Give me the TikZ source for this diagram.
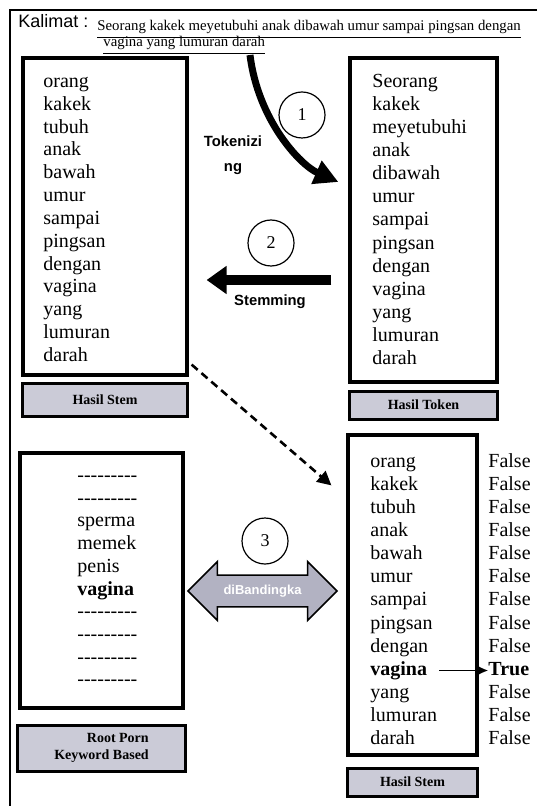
\documentclass[tikz,border=0pt]{standalone}
\usepackage{fontspec}
\setmainfont{Liberation Serif}
\setsansfont{Liberation Sans}
\usetikzlibrary{positioning,arrows.meta,shapes.arrows}
\tikzset{>=latex}
\definecolor{scangray}{RGB}{203,203,215}
\definecolor{arrowgray}{RGB}{178,178,194}
\def\hy{\hbox{-}}
\def\dashrow{\hy\hy\hy\hy\hy\hy\hy\hy\hy}

\tikzset{
  listbox/.style={draw, line width=1.6pt, inner sep=0pt},
  lblbox/.style={draw, line width=1.6pt, fill=scangray, inner sep=0pt, align=center,
    font=\fontsize{7}{8.5}\selectfont\bfseries},
  word/.style={anchor=base west, inner sep=0pt, font=\fontsize{10}{11.5}\selectfont},
  stepnum/.style={draw, circle, line width=0.6pt, minimum size=23pt, inner sep=0pt,
    font=\fontsize{9}{10}\selectfont},
  steplbl/.style={inner sep=0pt, align=center, font=\sffamily\bfseries\fontsize{7.4}{12.5}\selectfont},
  fatarrow/.style={line width=#1},
}

\begin{document}
\begin{tikzpicture}[x=0.5pt, y=-0.5pt]
  \useasboundingbox[fill=white] (0,0) rectangle (537,806);
  \draw[line width=1pt] (537,10) -- (10,10) -- (10,806);

  % kalimat
  \node[anchor=base west, inner sep=0pt, font=\sffamily\fontsize{9}{10}\selectfont] (kal) at (18,28) {Kalimat :};
  \node[anchor=base west, inner sep=0pt, font=\fontsize{7.4}{8}\selectfont] (sent1) at (97,31)
    {\underline{Seorang kakek meyetubuhi anak dibawah umur sampai pingsan dengan}};
  \node[anchor=base west, inner sep=0pt, font=\fontsize{7.4}{8}\selectfont] (sent2) at (103,47)
    {\underline{vagina yang lumuran darah}};
  \coordinate (tokstart) at (250,55);

  % kotak
  \node[listbox, minimum width=82pt, minimum height=158.5pt] (stembox) at (105,216.5) {};
  \node[lblbox, below=2.5pt of stembox, minimum width=82.5pt, minimum height=16.5pt] (stemlbl) {Hasil Stem};
  \node[listbox, minimum width=73.5pt, minimum height=162pt] (tokbox) at (423.5,220) {};
  \node[lblbox, below=3pt of tokbox, minimum width=74pt, minimum height=14pt] (toklbl) {Hasil Token};
  \node[listbox, minimum width=81.5pt, minimum height=127.5pt] (keybox) at (101.5,580.5) {};
  \node[lblbox, below=7pt of keybox, minimum width=84pt, minimum height=23pt, align=right] (keylbl)
    {\hspace*{1.2em}Root Porn\\Keyword Based};
  \node[listbox, minimum width=64.5pt, minimum height=160pt] (cmpbox) at (412.5,595) {};
  \node[lblbox, below=5pt of cmpbox, minimum width=65pt, minimum height=14pt] (cmplbl) {Hasil Stem};

  % isi kotak
  \foreach \w [count=\i] in {orang,kakek,tubuh,anak,bawah,umur,sampai,pingsan,dengan,vagina,yang,lumuran,darah}
    \node[word] (sw\i) at (43,{87.5+22.83*(\i-1)}) {\w};
  \foreach \w [count=\i] in {Seorang,kakek,meyetubuhi,anak,dibawah,umur,sampai,pingsan,dengan,vagina,yang,lumuran,darah}
    \node[word] (tw\i) at (372,{87.5+23.08*(\i-1)}) {\w};
  \foreach \w [count=\i] in {orang,kakek,tubuh,anak,bawah,umur,sampai,pingsan,dengan,\textbf{vagina},yang,lumuran,darah}
    \node[word] (cw\i) at (370,{467.5+23.08*(\i-1)}) {\w};
  \foreach \w [count=\i] in {False,False,False,False,False,False,False,False,False,\textbf{True},False,False,False}
    \node[word] (rv\i) at (488,{467.5+23.08*(\i-1)}) {\w};
  \foreach \w [count=\i] in {\dashrow,\dashrow,sperma,memek,penis,\textbf{vagina},\dashrow,\dashrow,\dashrow,\dashrow}
    \node[word] (kw\i) at (77,{481.5+22.7*(\i-1)}) {\w};

  % langkah
  \node[stepnum] (num1) at (302,115) {1};
  \node[stepnum] (num2) at (271,243) {2};
  \node[stepnum] (num3) at (265,541) {3};
  \node[steplbl] (toklabel) at (233,155) {Tokenizi\\ng};
  \node[steplbl] (stemlabel) at (270,302) {Stemming};
  \node[double arrow, draw, line width=0.8pt, fill=arrowgray, minimum height=74.5pt,
    double arrow head extend=6.75pt, inner xsep=2pt, inner ysep=4.5pt, text=white,
    font=\sffamily\bfseries\fontsize{6.5}{7}\selectfont] (banding) at (262.5,591) {diBandingka};

  \draw[fatarrow=3.5pt, -{Triangle[length=12pt, width=12pt]}] (tokstart)
    .. controls (258,120) and (300,165) .. ([shift={(-10,-38)}]tokbox.west);
  \draw[fatarrow=5pt, -{Triangle[length=10pt, width=13.5pt]}] ([shift={(-17,60)}]tokbox.west)
    -- ([shift={(18,63.5)}]stembox.east);
  \draw[line width=1.3pt, dash pattern=on 4pt off 2.5pt, -{Triangle[length=7pt, width=7pt]}]
    ([shift={(3,-12)}]stembox.south east) -- ([shift={(-15,52)}]cmpbox.north west);
  \draw[line width=0.8pt, -{Latex[length=6pt, width=6pt]}] ([xshift=6pt]cw10.east) -- (cw10.east -| rv10.west);
\end{tikzpicture}
\end{document}
